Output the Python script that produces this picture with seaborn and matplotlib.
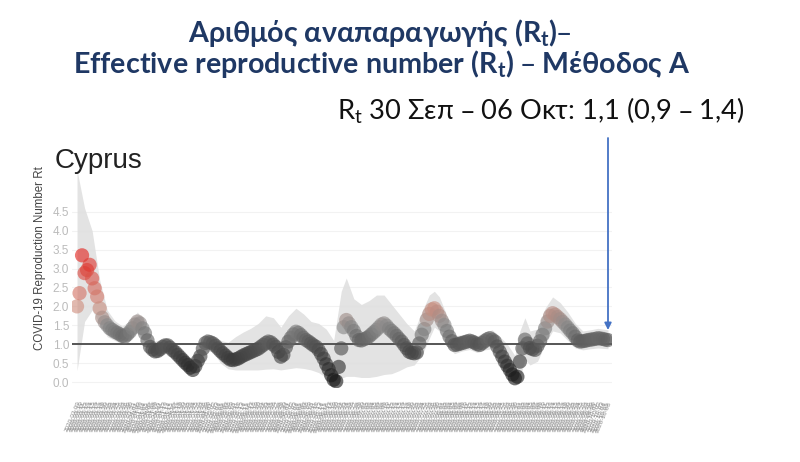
import numpy as np
import pandas as pd
import matplotlib
matplotlib.use("Agg")
import matplotlib.pyplot as plt
import seaborn as sns
from matplotlib.colors import LinearSegmentedColormap

# ---------------- data ----------------
start_date = "2020-03-09"
rt_values = [
    2.00, 2.35, 3.35, 2.88, 2.96, 3.10, 2.74, 2.48, 2.26, 1.95,
    1.70, 1.58, 1.50, 1.42, 1.38, 1.33, 1.30, 1.26, 1.22, 1.20,
    1.26, 1.33, 1.42, 1.52, 1.60, 1.55, 1.42, 1.29, 1.10, 0.93,
    0.86, 0.81, 0.82, 0.87, 0.93, 0.97, 0.97, 0.91, 0.84, 0.79,
    0.72, 0.65, 0.58, 0.51, 0.45, 0.38, 0.32, 0.42, 0.56, 0.68,
    0.88, 1.03, 1.07, 1.05, 1.02, 0.96, 0.89, 0.82, 0.76, 0.70,
    0.64, 0.59, 0.58, 0.60, 0.62, 0.66, 0.70, 0.73, 0.76, 0.79,
    0.82, 0.85, 0.88, 0.93, 0.98, 1.03, 1.07, 1.05, 0.99, 0.93,
    0.80, 0.67, 0.72, 0.92, 1.07, 1.17, 1.26, 1.33, 1.30, 1.24,
    1.17, 1.11, 1.07, 1.02, 0.97, 0.93, 0.85, 0.74, 0.62, 0.47,
    0.34, 0.18, 0.06, 0.02, 0.40, 0.89, 1.45, 1.64, 1.55, 1.45,
    1.35, 1.22, 1.11, 1.10, 1.13, 1.16, 1.20, 1.26, 1.32, 1.38,
    1.45, 1.52, 1.55, 1.49, 1.41, 1.35, 1.29, 1.22, 1.14, 1.07,
    0.98, 0.89, 0.80, 0.77, 0.76, 0.78, 1.02, 1.25, 1.40, 1.65,
    1.80, 1.92, 1.95, 1.86, 1.75, 1.62, 1.51, 1.35, 1.20, 1.08,
    0.98, 0.99, 1.01, 1.03, 1.05, 1.07, 1.09, 1.07, 1.04, 1.00,
    0.98, 1.03, 1.08, 1.13, 1.16, 1.12, 1.07, 0.94, 0.80, 0.67,
    0.54, 0.43, 0.32, 0.20, 0.10, 0.14, 0.54, 0.89, 1.12, 1.02,
    0.90, 0.87, 0.85, 0.96, 1.08, 1.25, 1.42, 1.60, 1.75, 1.82,
    1.78, 1.72, 1.66, 1.59, 1.52, 1.44, 1.36, 1.29, 1.20, 1.10,
    1.07, 1.08, 1.09, 1.11, 1.12, 1.13, 1.14, 1.16, 1.15, 1.14,
    1.12, 1.11,
]
band_days = [0, 3, 6, 9, 12, 15, 18, 21, 24, 27, 30, 33, 36, 39, 42, 45, 48,
             51, 54, 57, 60, 63, 66, 69, 72, 75, 78, 81, 84, 87, 90, 93, 96,
             99, 102, 105, 107, 110, 113, 116, 119, 122, 125, 128, 131, 134,
             137, 140, 142, 144, 147, 150, 153, 156, 159, 162, 165, 168, 171,
             174, 176, 178, 180, 183, 186, 189, 192, 195, 198, 201, 204, 207,
             211]
band_lower = [0.30, 1.60, 1.90, 1.55, 1.20, 1.10, 1.00, 1.10, 1.35, 1.05,
              0.68, 0.68, 0.78, 0.62, 0.40, 0.18, 0.38, 0.82, 0.80, 0.50,
              0.35, 0.32, 0.32, 0.32, 0.32, 0.34, 0.35, 0.32, 0.35, 0.38,
              0.36, 0.32, 0.25, 0.12, 0.00, 0.10, 0.15, 0.15, 0.12, 0.12,
              0.15, 0.20, 0.22, 0.30, 0.40, 0.45, 0.70, 1.15, 1.45, 1.35,
              0.95, 0.75, 0.82, 0.86, 0.78, 0.85, 0.88, 0.45, 0.15, 0.00,
              0.10, 0.60, 0.45, 0.55, 1.00, 1.35, 1.30, 1.10, 0.90, 0.85,
              0.88, 0.90, 0.88]
band_upper = [5.60, 4.60, 4.00, 2.70, 1.90, 1.62, 1.48, 1.62, 1.85, 1.55,
              1.08, 1.10, 1.16, 0.98, 0.78, 0.60, 0.85, 1.28, 1.22, 1.10,
              1.05, 1.20, 1.32, 1.42, 1.55, 1.75, 1.70, 1.45, 1.75, 1.95,
              1.80, 1.60, 1.55, 1.40, 1.10, 2.40, 2.75, 2.20, 2.05, 2.15,
              2.30, 2.30, 2.05, 1.80, 1.55, 1.35, 1.85, 2.30, 2.40, 2.25,
              1.75, 1.22, 1.25, 1.30, 1.22, 1.32, 1.38, 1.20, 1.00, 0.70,
              1.35, 1.70, 1.35, 1.40, 1.95, 2.25, 2.10, 1.85, 1.55, 1.35,
              1.38, 1.42, 1.38]
yticks = [0.0, 0.5, 1.0, 1.5, 2.0, 2.5, 3.0, 3.5, 4.0, 4.5]

title_line1 = "Αριθμός αναπαραγωγής ($\\mathregular{R_t}$)–"
title_line2 = "Effective reproductive number ($\\mathregular{R_t}$) – Μέθοδος Α"
estimate_text = "$\\mathregular{R_t}$ 30 Σεπ – 06 Οκτ: 1,1 (0,9 – 1,4)"
country = "Cyprus"
ylabel = "COVID-19 Reproduction Number Rt"

# ---------------- style ----------------
sns.set_theme(style="white")
plt.rcParams["font.family"] = ["Liberation Sans", "DejaVu Sans"]
slide_font = ["Lato", "Open Sans", "DejaVu Sans"]

dates = pd.date_range(start_date, periods=len(rt_values), freq="D")
df = pd.DataFrame({"date": dates, "rt": rt_values})
band_dates = dates[band_days]

fig = plt.figure(figsize=(8.0, 4.62), dpi=100)
ax = fig.add_axes([0.09, 0.16, 0.675, 0.483])

ax.fill_between(band_dates, band_lower, band_upper, color="#dedede",
                alpha=0.85, lw=0, zorder=1)
ax.axhline(1.0, color="#555555", lw=1.4, zorder=2)

cmap = LinearSegmentedColormap.from_list(
    "rt", [(0.0, "#151515"), (1.0 / 3.4, "#555555"), (1.5 / 3.4, "#8c8c8c"),
           (2.0 / 3.4, "#cf8e7e"), (1.0, "#e3201b")])
sns.scatterplot(data=df, x="date", y="rt", hue="rt", palette=cmap,
                hue_norm=(0, 3.4), s=105, alpha=0.62, edgecolor="none",
                legend=False, ax=ax, zorder=3)

ax.set_ylim(-0.16, 5.74)
ax.set_xlim(dates[0] - pd.Timedelta(days=2), dates[-1] + pd.Timedelta(days=1.6))
ax.set_yticks(yticks)
ax.set_yticklabels([f"{v:.1f}" for v in yticks])
ax.tick_params(axis="y", length=0, labelcolor="#bbbbbb", labelsize=8.5, pad=2)
ax.yaxis.grid(True, color="#f2f2f2", lw=0.8)
ax.set_axisbelow(True)
ax.set_xticks(dates)
ax.set_xticklabels(dates.strftime("%Y-%m-%d"), rotation=67, ha="right",
                   rotation_mode="anchor", fontsize=4.6, color="#8c8c8c")
ax.tick_params(axis="x", length=0, pad=9)
ax.set_xlabel("")
ax.set_ylabel("")
for sp in ax.spines.values():
    sp.set_visible(False)

fig.text(40 / 800, 1 - 258 / 462, ylabel, rotation=90, ha="center",
         va="center", fontsize=8.3, color="#444444")
fig.text(55 / 800, 1 - 168 / 462, country, fontsize=20, color="#222222",
         va="baseline", ha="left")

fig.text(380 / 800, 1 - 33 / 462, title_line1, ha="center", va="center",
         fontsize=20.6, fontweight="bold", color="#1f3864", family=slide_font)
fig.text(382 / 800, 1 - 64 / 462, title_line2, ha="center", va="center",
         fontsize=20.6, fontweight="bold", color="#1f3864", family=slide_font)
fig.text(745 / 800, 1 - 120 / 462, estimate_text, ha="right", va="baseline",
         fontsize=19.6, color="#111111", family=slide_font)

ax.annotate("", xy=(608 / 800, 1 - 330 / 462), xycoords="figure fraction",
            xytext=(608 / 800, 1 - 138 / 462), textcoords="figure fraction",
            arrowprops=dict(arrowstyle="-|>", color="#4472c4", lw=1.3,
                            mutation_scale=10, shrinkA=0, shrinkB=0))

fig.savefig("out.png", dpi=100)
